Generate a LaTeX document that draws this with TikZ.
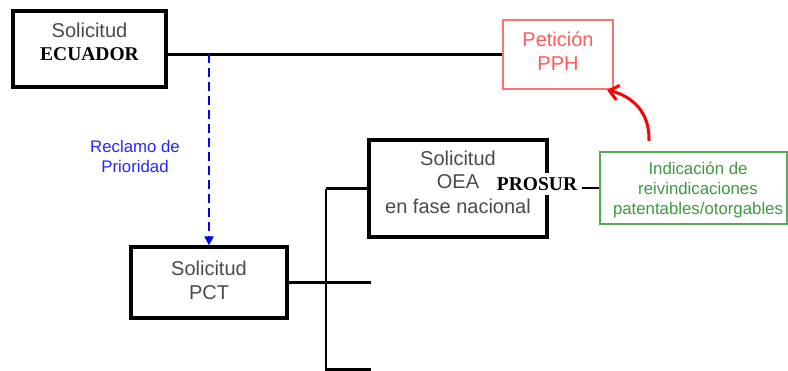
\documentclass[tikz,border=0pt]{standalone}
\usepackage{fontspec}
\setmainfont{Liberation Sans}
\newfontfamily\serifbold{Liberation Serif}
\usetikzlibrary{arrows.meta}
\definecolor{txtgray}{HTML}{4A4A4A}
\definecolor{pphred}{HTML}{FF5A5A}
\definecolor{pphline}{HTML}{FF7070}
\definecolor{grn}{HTML}{3C9A3C}
\definecolor{grnline}{HTML}{55AA55}
\definecolor{blu}{HTML}{2626FF}
\tikzset{
  bbox/.style={draw=black, line width=3.3pt, inner sep=0pt},
  txt/.style={inner sep=0pt, align=center, text=txtgray, font=\fontsize{20}{24}\selectfont},
  serifb/.style={font=\fontsize{19.5}{22}\serifbold\bfseries, text=black},
  conn/.style={draw=black, line width=2.7pt},
}
\begin{document}
\begin{tikzpicture}[x=1pt,y=-1pt]
\useasboundingbox (0,0) rectangle (788,371);
% boxes
\node[bbox, minimum width=153pt, minimum height=76pt] (ecu) at (89.5,49) {};
\node[txt] (ecuT) at (89.5,41.5) {Solicitud\\[-1pt]{\serifbold\bfseries\fontsize{19.5}{22}\selectfont\color{black}ECUADOR}};
\node[draw=pphline, line width=1.7pt, minimum width=110pt, minimum height=69pt, inner sep=0pt] (pph) at (558,54.5) {};
\node[txt, text=pphred] (pphT) at (558,51) {Petición\\PPH};
\node[bbox, minimum width=156pt, minimum height=71pt] (pct) at (209,282.5) {};
\node[txt] (pctT) at (209,280) {Solicitud\\PCT};
\node[bbox, minimum width=178pt, minimum height=97pt] (oea) at (458,188.5) {};
\node[txt] (oeaS) at (458,158) {Solicitud};
\node[txt] (oeaO) at (458,182) {OEA};
\node[txt] (oeaN) at (458,206) {en fase nacional};
\node[fill=white, inner xsep=5pt, inner ysep=4pt, serifb] (prosur) at (537,184) {PROSUR};
\node[draw=grnline, line width=1.7pt, minimum width=187pt, minimum height=72pt, inner sep=0pt] (grnb) at (693.5,188) {};
\node[txt, text=grn, font=\fontsize{16.8}{20}\selectfont] (grnT) at (698,190) {Indicación de\\reivindicaciones\\patentables/otorgables};
\node[txt, text=blu, font=\fontsize{16.8}{20}\selectfont] (recl) at (135,156) {Reclamo de\\Prioridad};
% connectors
\draw[conn] (ecu.east |- pph.west) -- (pph.west);
\coordinate (dstart) at (pct.north |- pph.west);
\draw[draw=blue, line width=2.6pt, dash pattern=on 9pt off 5pt, -{Triangle[length=9pt,width=9pt]}] (dstart) -- (pct.north);
\draw[conn] (prosur.east |- grnb.west) -- (grnb.west);
\coordinate (ttop) at (326,189);
\coordinate (tbot) at (326,372);
\coordinate (b2) at (371,282.5);
\coordinate (b3) at (371,369.5);
\draw[conn] (ttop |- oea.west) -- (oea.west);
\draw[conn] (ttop) -- (tbot);
\draw[conn] (pct.east) -- (b2);
\draw[conn] (ttop |- b3) -- (b3);
\coordinate (rs) at (649,141);
\coordinate (re) at (607,90);
\draw[red, line width=3pt, -{Straight Barb[length=9pt,width=15pt]}] (rs) .. controls (650,112) and (632,96) .. (re);
\end{tikzpicture}
\end{document}
